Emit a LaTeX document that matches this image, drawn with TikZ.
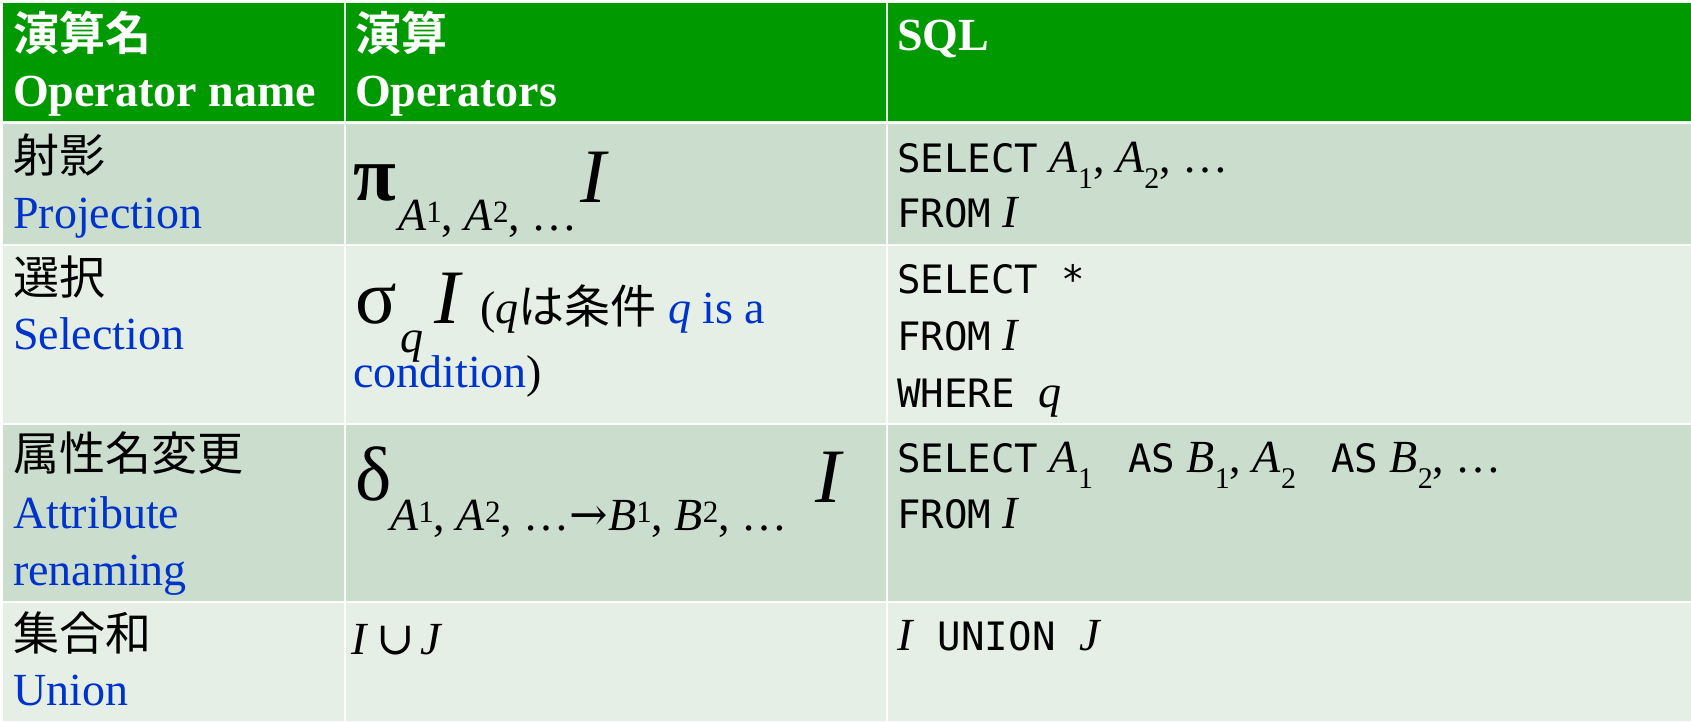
\documentclass[tikz,border=0pt]{standalone}
\usepackage{fontspec}
\setmainfont{Liberation Serif}
\newfontfamily\cjk{Noto Sans CJK JP}[BoldFont={Noto Sans CJK JP Bold}]
\newfontfamily\sqlmono{DejaVu Sans Mono}[Scale=0.85]
\newfontfamily\symfont{DejaVu Serif}
\definecolor{hdrgreen}{HTML}{009900}
\definecolor{banda}{HTML}{CBDDCC}
\definecolor{bandb}{HTML}{E6EFE6}
\definecolor{nameblue}{HTML}{0033CC}
\newcommand\supnum[1]{\raisebox{8pt}{\fontsize{31}{31}\selectfont #1}}
\newcommand\subnum[1]{\raisebox{-16pt}{\fontsize{30}{30}\selectfont #1}}
\begin{document}
\begin{tikzpicture}[x=1pt,y=-1pt,
    txt/.style={anchor=base west,inner sep=0pt,font=\fontsize{46}{55}\selectfont},
    hdr/.style={txt,text=white,font=\fontsize{46}{55}\selectfont\bfseries},
    big/.style={anchor=base west,inner sep=0pt,font=\fontsize{77}{80}\selectfont}]
  \useasboundingbox (0,0) rectangle (1691,721);
  % cells
  \fill[white] (0,0) rectangle (1691,721);
  \fill[hdrgreen] (3,3) rectangle (344,121) (346,3) rectangle (886,121)
    (888,3) rectangle (1691,121);
  \foreach \ya/\yb/\c in {124/244/banda,246/423/bandb,425/601/banda,603/721/bandb}
    \fill[\c] (3,\ya) rectangle (344,\yb) (346,\ya) rectangle (886,\yb)
      (888,\ya) rectangle (1691,\yb);
  % header
  \node[hdr] (namehja) at (13,50) {{\cjk 演算名}};
  \node[hdr] (nameh) at (13,106) {Operator name};
  \node[hdr] (ophja) at (355,50) {{\cjk 演算}};
  \node[hdr] (oph) at (355,106) {Operators};
  \node[hdr] (sqlh) at (897,50) {SQL};
  % operator names
  \node[txt] (projja) at (13,172) {{\cjk 射影}};
  \node[txt,text=nameblue] (projen) at (13,228) {Projection};
  \node[txt] (selja) at (13,294) {{\cjk 選択}};
  \node[txt,text=nameblue] (selen) at (13,349) {Selection};
  \node[txt] (renja) at (13,470) {{\cjk 属性名変更}};
  \node[txt,text=nameblue] (renen) at (13,528) {Attribute};
  \node[txt,text=nameblue] (renenb) at (13,585) {renaming};
  \node[txt] (unija) at (13,650) {{\cjk 集合和}};
  \node[txt,text=nameblue] (unien) at (13,705) {Union};
  % operators
  \node[big,font=\fontsize{78}{80}\selectfont\bfseries] (projop) at (353,200) {π};
  \node[txt] (projsub) at (398,230) {\textit{A}\supnum{1}, \textit{A}\supnum{2}, …};
  \node[big] (projin) at (580,202) {\textit{I}};
  \node[big] (selop) at (355,323) {σ};
  \node[txt] (selsub) at (400,352) {\textit{q}};
  \node[big] (selin) at (434,323) {\textit{I}};
  \node[txt] (selnote) at (480,323) {(\textit{q}{\cjk は条件} \textcolor{nameblue}{\textit{q} is a}};
  \node[txt] (selnoteb) at (353,387) {\textcolor{nameblue}{condition})};
  \node[big] (renop) at (355,500) {δ};
  \node[txt] (rensub) at (390,530) {\textit{A}\supnum{1}, \textit{A}\supnum{2}, …{\symfont →}\textit{B}\supnum{1}, \textit{B}\supnum{2}, …};
  \node[big] (renin) at (815,502) {\textit{I}};
  \node[txt] (uniop) at (351,654) {\textit{I}\hspace{8pt}{\symfont ∪}\hspace{6pt}\textit{J}};
  % sql
  \node[txt] (projsql) at (897,172) {{\sqlmono SELECT} \textit{A}\subnum{1}, \textit{A}\subnum{2}, …};
  \node[txt] (projsqlb) at (897,227) {{\sqlmono FROM} \textit{I}};
  \node[txt] (selsql) at (897,293) {{\sqlmono SELECT *}};
  \node[txt] (selsqlb) at (897,350) {{\sqlmono FROM} \textit{I}};
  \node[txt] (selsqlc) at (897,407) {{\sqlmono WHERE\ }\textit{q}};
  \node[txt] (rensql) at (897,472) {{\sqlmono SELECT} \textit{A}\subnum{1} {\sqlmono\ AS} \textit{B}\subnum{1}, \textit{A}\subnum{2} {\sqlmono\ AS} \textit{B}\subnum{2}, …};
  \node[txt] (rensqlb) at (897,528) {{\sqlmono FROM} \textit{I}};
  \node[txt] (unisql) at (897,650) {\textit{I}{\sqlmono\ UNION\ }\textit{J}};
\end{tikzpicture}
\end{document}
